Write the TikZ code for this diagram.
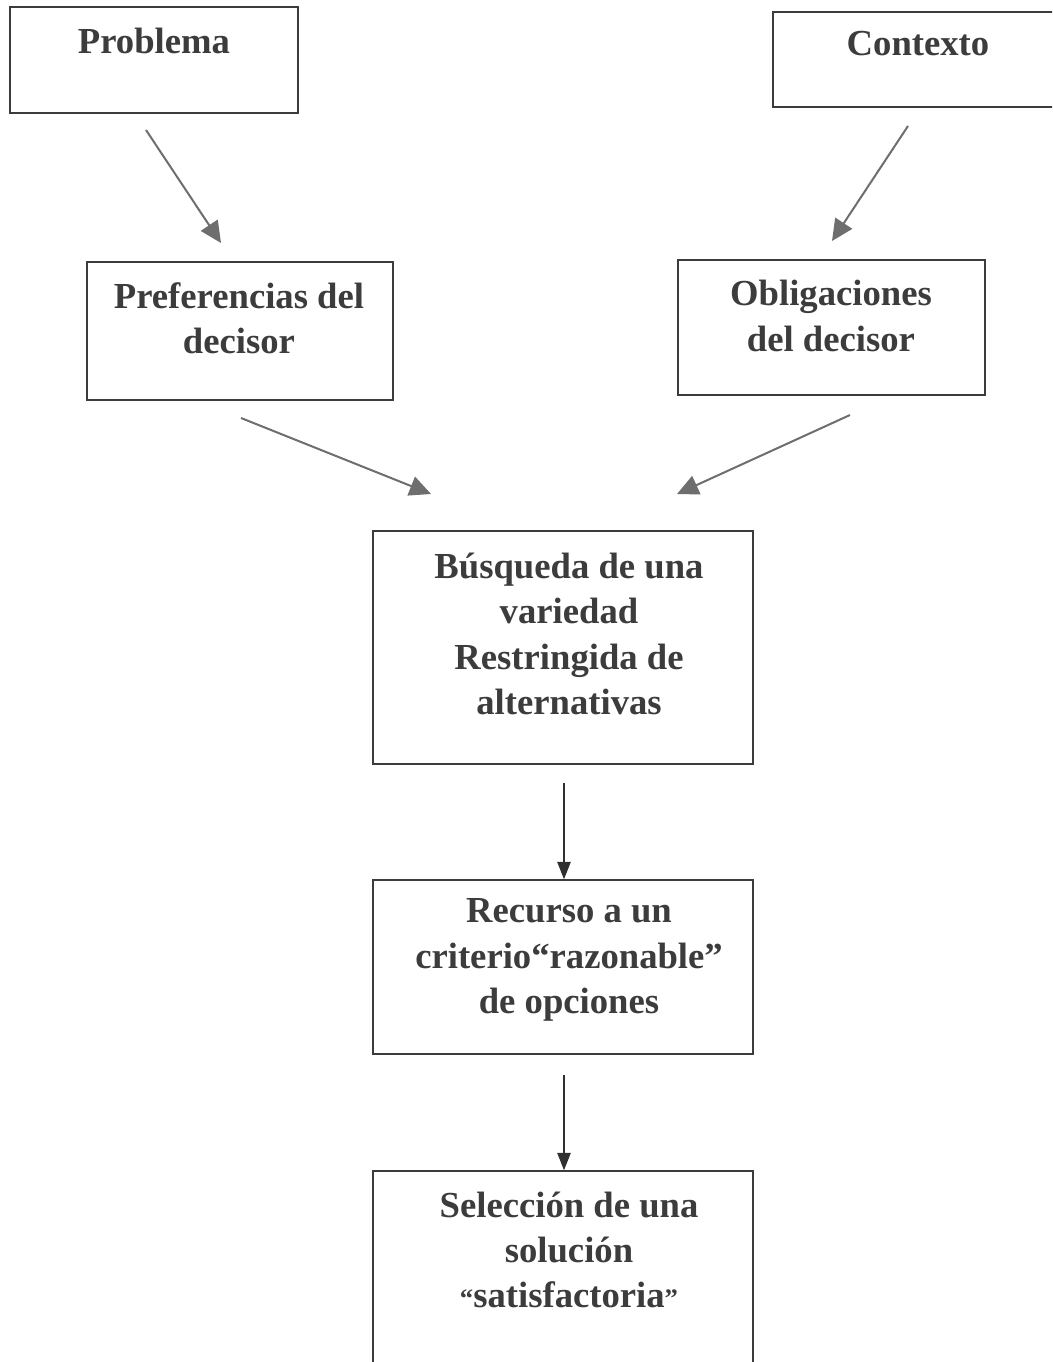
\documentclass[tikz,border=0pt]{standalone}
\usepackage{fontspec}
\setmainfont{Liberation Serif}
\usetikzlibrary{arrows.meta,fit}
\definecolor{ink}{HTML}{3C3C3C}
\definecolor{garrow}{HTML}{6E6E6E}
\definecolor{darrow}{HTML}{303030}
\tikzset{
  boxn/.style={draw=ink, line width=1.1pt, inner sep=0pt, rectangle},
  lbl/.style={text=ink, font=\fontsize{27.5}{34}\selectfont\bfseries, align=center, inner sep=0pt},
  garr/.style={draw=garrow, line width=1.5pt, -{Triangle[length=16pt,width=15pt]}},
  darr/.style={draw=darrow, line width=1pt, -{Triangle[length=13pt,width=10pt]}}
}
\begin{document}
\begin{tikzpicture}[x=0.75pt,y=-0.75pt]
\useasboundingbox (0,0) rectangle (1052,1362);
\fill[white] (0,0) rectangle (1052,1362);
\clip (0,0) rectangle (1052,1362);
% boxes
\node[boxn, fit={(10,7) (298,113)}] (bprob) {};
\node[boxn, fit={(773,12) (1060,107)}] (bcont) {};
\node[boxn, fit={(87,262) (393,400)}] (bpref) {};
\node[boxn, fit={(678,260) (985,395)}] (bobl) {};
\node[boxn, fit={(373,531) (753,764)}] (bbus) {};
\node[boxn, fit={(373,880) (753,1054)}] (brec) {};
\node[boxn, fit={(373,1171) (753,1390)}] (bsel) {};
% texts
\node[lbl] (tprob) at (154,41) {Problema};
\node[lbl] (tcont) at (918,44) {Contexto};
\node[lbl] (tpref) at (239,318) {Preferencias del\\decisor};
\node[lbl] (tobl) at (831,316) {Obligaciones\\del decisor};
\node[lbl] (tbus) at (569,634) {Búsqueda de una\\variedad\\Restringida de\\alternativas};
\node[lbl] (trec) at (569,960) {Recurso a un\\criterio“razonable”\\de opciones};
\node[lbl] (tsel) at (569,1250) {Selección de una\\solución\\{\fontsize{20}{24}\selectfont “}satisfactoria{\fontsize{20}{24}\selectfont ”}};
% connector end points
\coordinate (a1s) at (146,130); \coordinate (a1e) at (221,243);
\coordinate (a2s) at (908,126); \coordinate (a2e) at (832,241);
\coordinate (a3s) at (241,418); \coordinate (a3e) at (431,494);
\coordinate (a4s) at (850,415); \coordinate (a4e) at (677,494);
\coordinate (a5s) at (564,783);
\coordinate (a6s) at (564,1075);
\draw[garr] (a1s) -- (a1e);
\draw[garr] (a2s) -- (a2e);
\draw[garr] (a3s) -- (a3e);
\draw[garr] (a4s) -- (a4e);
\draw[darr] (a5s) -- (a5s |- brec.north);
\draw[darr] (a6s) -- (a6s |- bsel.north);
\end{tikzpicture}
\end{document}
